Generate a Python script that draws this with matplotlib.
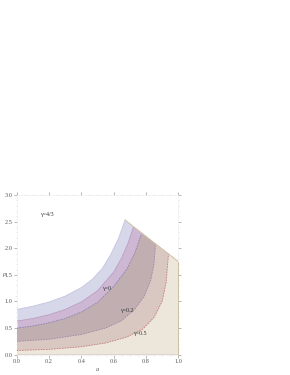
import numpy as np
import matplotlib
matplotlib.use("Agg")
import matplotlib.pyplot as plt
from matplotlib.patches import Polygon
from matplotlib.ticker import MultipleLocator

# contour boundaries (outer -> inner)
a_x = [0.0, 0.1, 0.2, 0.3, 0.4, 0.47, 0.53, 0.58, 0.63, 0.671]
a_y = [0.85, 0.91, 0.99, 1.1, 1.26, 1.42, 1.62, 1.87, 2.18, 2.53]

b_x = [0.0, 0.1, 0.2, 0.3, 0.4, 0.5, 0.6, 0.65, 0.69, 0.725]
b_y = [0.63, 0.68, 0.75, 0.85, 0.99, 1.2, 1.55, 1.82, 2.1, 2.42]

c_x = [0.0, 0.1, 0.2, 0.3, 0.4, 0.5, 0.6, 0.68, 0.73, 0.77]
c_y = [0.5, 0.54, 0.6, 0.68, 0.8, 0.98, 1.28, 1.6, 1.9, 2.25]

d_x = [0.0, 0.2, 0.4, 0.55, 0.65, 0.73, 0.79, 0.83, 0.85, 0.86]
d_y = [0.25, 0.29, 0.38, 0.5, 0.64, 0.85, 1.1, 1.4, 1.7, 2.1]

e_x = [0.0, 0.2, 0.4, 0.55, 0.68, 0.78, 0.85, 0.9, 0.925, 0.94]
e_y = [0.08, 0.1, 0.15, 0.22, 0.33, 0.48, 0.7, 1.0, 1.35, 1.9]

# upper-right cut line of the domain
diag_x = [0.671, 1.0]
diag_y = [2.53, 1.75]

curve_labels = ["γ=4/3", "γ=0", "γ=0.2", "γ=0.5"]
label_x = [0.19, 0.56, 0.69, 0.765]
label_y = [2.63, 1.25, 0.83, 0.39]

fill_colors = ["#d7d7ea", "#cdb7d3", "#c0aeb1", "#d9c8c1", "#ece6db"]
line_colors = ["#c4c4e0", "#b9a0c4", "#8e82b4", "#a886a8", "#c47c7c"]

x_ticks = [0.0, 0.2, 0.4, 0.6, 0.8, 1.0]
y_ticks = [0.0, 0.5, 1.0, 1.5, 2.0, 2.5, 3.0]


def main():
    plt.rcParams["font.family"] = ["Liberation Serif", "DejaVu Serif"]
    fig = plt.figure(figsize=(2.9, 3.75), dpi=100)
    ax = fig.add_axes([0.0576, 0.0541, 0.557, 0.426])
    ax.set_xlim(0, 1)
    ax.set_ylim(0, 3)

    # domain: everything below the line through the two diag points
    slope = (diag_y[1] - diag_y[0]) / (diag_x[1] - diag_x[0])
    y_at0 = diag_y[0] - slope * diag_x[0]
    clip = Polygon([(0, 0), (0, y_at0), (diag_x[1], diag_y[1]), (1, 0)],
                   closed=True, transform=ax.transData, facecolor="none",
                   edgecolor="none")
    ax.add_patch(clip)

    curves = [(a_x, a_y), (b_x, b_y), (c_x, c_y), (d_x, d_y), (e_x, e_y)]
    for i, (cx, cy) in enumerate(curves):
        verts = list(zip(cx, cy)) + [(cx[-1], 3.5), (1, 3.5), (1, 0), (0, 0)]
        poly = Polygon(verts, closed=True, facecolor=fill_colors[i],
                       edgecolor="none", zorder=1 + i)
        ax.add_patch(poly)
        poly.set_clip_path(clip)
    for i, (cx, cy) in enumerate(curves):
        ls = "-" if i < 2 else (0, (2, 1.2))
        line, = ax.plot(cx, cy, color=line_colors[i], lw=0.6, ls=ls,
                        zorder=10)
        line.set_clip_path(clip)

    ax.plot(diag_x, diag_y, color="#d2c4a8", lw=0.7, zorder=11)
    ax.plot([1, 1], [0, diag_y[1]], color="#c9bfa6", lw=0.7, zorder=11,
            clip_on=False)

    for txt, tx, ty in zip(curve_labels, label_x, label_y):
        ax.text(tx, ty, txt, fontsize=4.3, color="#333333",
                ha="center", va="center", zorder=12)

    ax.set_xticks(x_ticks)
    ax.set_yticks(y_ticks)
    ax.set_xticklabels([f"{v:.1f}" for v in x_ticks])
    ax.set_yticklabels([f"{v:.1f}" for v in y_ticks])
    ax.xaxis.set_minor_locator(MultipleLocator(0.05))
    ax.yaxis.set_minor_locator(MultipleLocator(0.1))
    ax.tick_params(which="both", direction="out", top=True, right=True,
                   labelsize=4.5, labelcolor="#555555", color="#999999",
                   pad=1.2)
    ax.tick_params(which="major", length=2, width=0.5)
    ax.tick_params(which="minor", length=1, width=0.4, color="#c8c8c8")
    for sp in ax.spines.values():
        sp.set_color("#eeeeee")
        sp.set_linewidth(0.5)

    ax.set_xlabel("a", fontsize=4.5, style="italic", color="#555555",
                  labelpad=2)
    ax.text(-0.092, 1.5, "ρ", fontsize=4.5, color="#555555", ha="left",
            va="center", style="italic", transform=ax.transData)

    fig.savefig("out.png", dpi=100)


if __name__ == "__main__":
    main()
